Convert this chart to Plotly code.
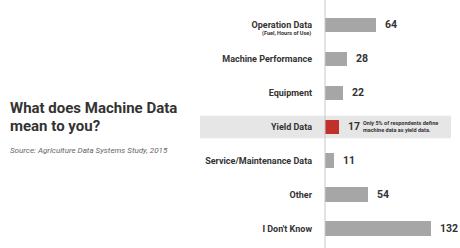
import plotly.graph_objects as go

categories = ["Operation Data", "Machine Performance", "Equipment", "Yield Data",
              "Service/Maintenance Data", "Other", "I Don't Know"]
values = [64, 28, 22, 17, 11, 54, 132]
highlight = "Yield Data"
subtitle = {"Operation Data": "(Fuel, Hours of Use)"}
note_text = "Only 5% of respondents define<br>machine data as yield data."
title_lines = ["What does Machine Data", "mean to you?"]
source_text = "Source: Agriculture Data Systems Study, 2015"

W, H = 460, 248
L = 325
FONT = "Roboto, Liberation Sans, sans-serif"
GRAY = "#a6a6a6"
RED = "#c0312b"
TXT = "#333333"

def F(size, color=TXT, weight=700, style="normal"):
    return dict(family=FONT, size=size, color=color, weight=weight, style=style)

colors = [RED if c == highlight else GRAY for c in categories]
idx = list(range(len(categories)))

fig = go.Figure()
fig.add_trace(go.Bar(
    x=values, y=idx, orientation="h", marker=dict(color=colors, line=dict(width=0)),
    width=0.44, hoverinfo="skip", showlegend=False,
))

def px2paper(px):
    return (px - L) / (W - L)

shapes = []
hi = categories.index(highlight)
shapes.append(dict(type="rect", xref="paper", yref="y", x0=px2paper(200), x1=px2paper(451),
                   y0=hi - 0.33, y1=hi + 0.33, fillcolor="#e6e6e6", line=dict(width=0), layer="below"))
shapes.append(dict(type="line", xref="paper", yref="paper", x0=0, x1=0, y0=0, y1=1,
                   line=dict(color="#c8c8c8", width=1), layer="above"))

annotations = []
for i, (c, v) in enumerate(zip(categories, values)):
    annotations.append(dict(x=v, y=i, xref="x", yref="y", text=str(v), showarrow=False,
                            xanchor="left", yanchor="middle", xshift=7, font=F(10.5)))
    if c in subtitle:
        annotations.append(dict(x=px2paper(313), y=i, xref="paper", yref="y",
                                text=subtitle[c], showarrow=False,
                                xanchor="right", yanchor="middle", yshift=-9, font=F(5.5)))
annotations.append(dict(x=values[hi], y=hi, xref="x", yref="y", text=note_text,
                        showarrow=False, xanchor="left", yanchor="middle", xshift=22, align="left",
                        font=F(5.5)))
annotations.append(dict(x=px2paper(8), y=1 - 107.5 / H, xref="paper", yref="paper",
                        text=title_lines[0], showarrow=False, xanchor="left", yanchor="middle",
                        font=F(15)))
annotations.append(dict(x=px2paper(8), y=1 - 125.5 / H, xref="paper", yref="paper",
                        text=title_lines[1], showarrow=False, xanchor="left", yanchor="middle",
                        font=F(15)))
annotations.append(dict(x=px2paper(8), y=1 - 150 / H, xref="paper", yref="paper",
                        text=source_text, showarrow=False, xanchor="left", yanchor="middle",
                        font=F(8, "#666666", 400, "italic")))

fig.update_layout(
    width=W, height=H, margin=dict(l=L, r=0, t=0, b=0),
    paper_bgcolor="white", plot_bgcolor="white",
    xaxis=dict(range=[0, (W - L) / 0.8], visible=False, fixedrange=True),
    yaxis=dict(range=[6.56, -0.735], tickvals=idx, ticktext=categories,
               showgrid=False, zeroline=False, showline=False, ticks="", ticklabelstandoff=12,
               tickfont=F(9), fixedrange=True),
    shapes=shapes, annotations=annotations, bargap=0,
)
fig.write_html("out.html")
